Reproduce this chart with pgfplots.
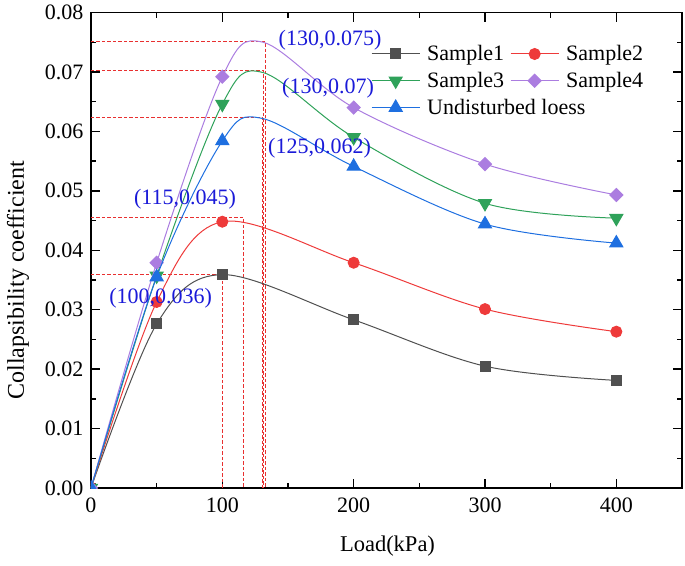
\documentclass[border=0pt]{standalone}
\usepackage{pgfplots}
\pgfplotsset{compat=1.18}
\usepackage{fontspec}
\setmainfont{Liberation Serif}
\definecolor{cSa}{HTML}{505050}
\definecolor{cSb}{HTML}{EE3A3A}
\definecolor{cSc}{HTML}{2FA25A}
\definecolor{cSd}{HTML}{AB7DE0}
\definecolor{cU}{HTML}{1E6FE0}
\definecolor{annblue}{HTML}{1A1AD8}
\definecolor{dashred}{HTML}{E83030}
\pgfplotsset{guide/.style={forget plot, draw=dashred, color=dashred, line width=0.9pt, dash pattern=on 3.5pt off 2pt, mark=none}}
\begin{document}
\begin{tikzpicture}
\begin{axis}[
  at={(0,0)}, anchor=south west,
  scale only axis, width=591pt, height=475.5pt,
  xmin=0, xmax=450, ymin=0, ymax=0.08,
  xtick={0,100,200,300,400}, minor x tick num=1,
  ytick={0,0.01,0.02,0.03,0.04,0.05,0.06,0.07,0.08}, minor y tick num=1,
  scaled y ticks=false,
  yticklabel style={/pgf/number format/.cd, fixed, fixed zerofill, precision=2, /tikz/.cd, xshift=-4pt},
  xticklabel style={yshift=-6pt},
  /pgf/number format/assume math mode=true,
  tick align=inside, major tick length=9pt, minor tick length=5pt,
  axis line style={line width=1.6pt},
  every tick/.style={black, line width=1.4pt},
  tick label style={font=\fontsize{22}{26}\selectfont},
  xlabel={Load(kPa)}, ylabel={Collapsibility coefficient},
  xlabel style={font=\fontsize{22.5}{27}\selectfont, at={(axis description cs:0.5017,-0.122)}, anchor=center},
  ylabel style={font=\fontsize{24}{28}\selectfont, at={(axis description cs:-0.1235,0.437)}, anchor=center, rotate=0},
  clip marker paths=true,
  legend columns=2,
  legend style={draw=none, fill=none, at={(axis cs:213.2,0.0748)}, anchor=north west,
    font=\fontsize{22}{26}\selectfont, inner sep=0pt, row sep=6pt,
    cells={anchor=west},
    /tikz/every odd column/.append style={column sep=5pt},
    /tikz/every even column/.append style={column sep=4pt}},
  legend image code/.code={\draw (0pt,0pt) -- (48pt,0pt); \draw[mark indices={1}] plot coordinates {(24pt,0pt)};},
]
% dashed guide lines
\addplot[guide] coordinates {(0,0.0752) (132.5,0.0752) (132.5,0)};
\addplot[guide] coordinates {(0,0.0702) (131.5,0.0702) (131.5,0)};
\addplot[guide] coordinates {(0,0.0624) (130.5,0.0624) (130.5,0)};
\addplot[guide] coordinates {(0,0.0455) (116,0.0455) (116,0)};
\addplot[guide] coordinates {(0,0.0359) (100,0.0359) (100,0)};
% Sample1
\addplot[cSa, line width=1pt, smooth, tension=0.55, mark=square*, mark size=5pt, mark options={solid, fill=cSa}]
  coordinates {(0,0) (50,0.0276) (100,0.0359) (200,0.0283) (300,0.0205) (400,0.0181)};
\addlegendentry{Sample1}
% Sample2
\addplot[cSb, line width=1pt, smooth, tension=0.55, mark=*, mark size=5.5pt, mark options={solid, fill=cSb}]
  coordinates {(0,0) (50,0.0313) (100,0.0448) (200,0.0379) (300,0.0301) (400,0.0263)};
\addlegendentry{Sample2}
% Sample3
\addplot[cSc, line width=1pt, smooth, tension=0.55, mark=triangle*, mark size=7.5pt, mark indices={1,2,3,5,6,7}, mark options={solid, fill=cSc, rotate=180}]
  coordinates {(0,0) (50,0.0357) (100,0.0646) (131,0.0699) (200,0.0590) (300,0.0479) (400,0.0454)};
\addlegendentry{Sample3}
% Sample4
\addplot[cSd, line width=1pt, smooth, tension=0.55, mark=square*, mark size=4.6pt, mark indices={1,2,3,5,6,7}, mark options={solid, fill=cSd, rotate=45}]
  coordinates {(0,0) (50,0.0379) (100,0.0692) (131,0.0750) (200,0.0640) (300,0.0545) (400,0.0493)};
\addlegendentry{Sample4}
% Undisturbed loess
\addplot[cU, line width=1pt, smooth, tension=0.55, mark=triangle*, mark size=7.5pt, mark indices={1,2,3,5,6,7}, mark options={solid, fill=cU}]
  coordinates {(0,0) (50,0.0355) (100,0.0584) (130,0.0622) (200,0.0541) (300,0.0444) (400,0.0412)};
\addlegendentry{\makebox[0pt][l]{Undisturbed loess}}
% annotations
\node[text=annblue, font=\fontsize{22}{26}\selectfont] at (axis cs:182,0.0754) {(130,0.075)};
\node[text=annblue, font=\fontsize{22}{26}\selectfont] at (axis cs:180.5,0.0673) {(130,0.07)};
\node[text=annblue, font=\fontsize{22}{26}\selectfont] at (axis cs:174,0.0572) {(125,0.062)};
\node[text=annblue, font=\fontsize{22}{26}\selectfont] at (axis cs:71.6,0.0486) {(115,0.045)};
\node[text=annblue, font=\fontsize{22}{26}\selectfont] at (axis cs:53,0.0320) {(100,0.036)};
\end{axis}
\pgfresetboundingbox
\path[use as bounding box] (-91pt,-77pt) rectangle (594pt,488pt);
\end{tikzpicture}
\end{document}
